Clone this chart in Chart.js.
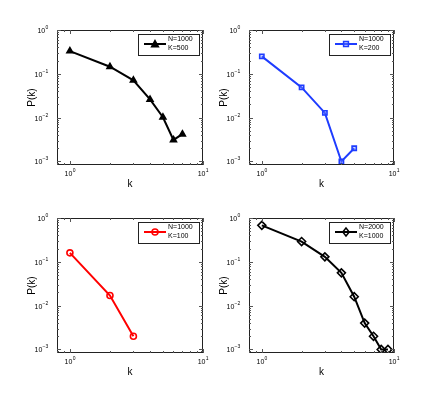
<!DOCTYPE html>
<html lang="en">
<head>
    <meta charset="UTF-8">
    <title>P(k) log-log</title>
    <script src="https://cdn.jsdelivr.net/npm/chart.js"></script>
    <style>
        * { margin: 0; padding: 0; box-sizing: border-box; }
        body { background: #fff; width: 436px; height: 398px; position: relative; overflow: hidden; }
        canvas { position: absolute; }
    </style>
</head>
<body>
    <canvas id="c1" width="218" height="199" style="left:0;top:0"></canvas>
    <canvas id="c2" width="218" height="199" style="left:218px;top:0"></canvas>
    <canvas id="c3" width="218" height="199" style="left:0;top:199px"></canvas>
    <canvas id="c4" width="218" height="199" style="left:218px;top:199px"></canvas>

    <script>
        // data
        const k1 = [1, 2, 3, 4, 5, 6, 7];
        const p1 = [0.33, 0.145, 0.071, 0.026, 0.0102, 0.0031, 0.0042];
        const k2 = [1, 2, 3, 4, 5];
        const p2 = [0.25, 0.049, 0.0128, 0.001, 0.002];
        const k3 = [1, 2, 3];
        const p3 = [0.16, 0.017, 0.002];
        const k4 = [1, 2, 3, 4, 5, 6, 7, 8, 9];
        const p4 = [0.68, 0.29, 0.13, 0.056, 0.016, 0.004, 0.002, 0.001, 0.001];

        const legend1 = ['N=1000', 'K=500'];
        const legend2 = ['N=1000', 'K=200'];
        const legend3 = ['N=1000', 'K=100'];
        const legend4 = ['N=2000', 'K=1000'];

        const xTicks = [1, 10];
        const yTicks = [1, 0.1, 0.01, 0.001];
        const xTitle = 'k';
        const yTitle = 'P(k)';

        const FONT = '"Liberation Sans", Arial, sans-serif';
        const AXIS = '#222';

        function drawMarker(ctx, style, x, y, r, color, fill) {
            ctx.save();
            ctx.strokeStyle = color;
            ctx.fillStyle = fill;
            ctx.lineWidth = 1.5;
            ctx.beginPath();
            if (style === 'triangle') {
                ctx.moveTo(x, y - r);
                ctx.lineTo(x + r, y + r * 0.8);
                ctx.lineTo(x - r, y + r * 0.8);
                ctx.closePath();
            } else if (style === 'rect') {
                ctx.rect(x - r * 0.8, y - r * 0.8, r * 1.6, r * 1.6);
            } else if (style === 'circle') {
                ctx.arc(x, y, r, 0, Math.PI * 2);
            } else {
                ctx.moveTo(x, y - r);
                ctx.lineTo(x + r * 0.8, y);
                ctx.lineTo(x, y + r);
                ctx.lineTo(x - r * 0.8, y);
                ctx.closePath();
            }
            ctx.fill();
            ctx.stroke();
            ctx.restore();
        }

        // "10" with a raised exponent
        function powLabel(ctx, exp, x, y, align) {
            ctx.font = '7px ' + FONT;
            const base = '10';
            const bw = ctx.measureText(base).width;
            ctx.font = '5px ' + FONT;
            const ew = ctx.measureText(exp).width;
            let x0 = x;
            if (align === 'right') x0 = x - bw - ew;
            if (align === 'center') x0 = x - (bw + ew) / 2;
            ctx.textAlign = 'left';
            ctx.textBaseline = 'middle';
            ctx.font = '7px ' + FONT;
            ctx.fillText(base, x0, y);
            ctx.font = '5px ' + FONT;
            ctx.fillText(exp, x0 + bw + 0.3, y - 3.5);
        }

        const framePlugin = {
            id: 'frame',
            afterDraw(chart) {
                const ctx = chart.ctx;
                const a = chart.chartArea;
                const xs = chart.scales.x;
                const ys = chart.scales.y;
                ctx.save();
                ctx.strokeStyle = AXIS;
                ctx.lineWidth = 1;
                ctx.strokeRect(a.left + 0.5, a.top + 0.5, a.right - a.left - 1, a.bottom - a.top - 1);

                // inward ticks on all four sides
                ctx.strokeStyle = '#555';
                ctx.beginPath();
                for (let d = -4; d <= 1; d++) {
                    for (let m = 1; m <= 9; m++) {
                        const v = m * Math.pow(10, d);
                        const len = m === 1 ? 4 : 2;
                        if (v >= xs.min && v <= xs.max) {
                            const px = Math.round(xs.getPixelForValue(v)) + 0.5;
                            ctx.moveTo(px, a.bottom); ctx.lineTo(px, a.bottom - len);
                            ctx.moveTo(px, a.top); ctx.lineTo(px, a.top + len);
                        }
                        if (v >= ys.min && v <= ys.max) {
                            const py = Math.round(ys.getPixelForValue(v)) + 0.5;
                            ctx.moveTo(a.left, py); ctx.lineTo(a.left + len, py);
                            ctx.moveTo(a.right, py); ctx.lineTo(a.right - len, py);
                        }
                    }
                }
                ctx.stroke();

                ctx.fillStyle = '#000';
                xTicks.forEach(v => {
                    powLabel(ctx, String(Math.round(Math.log10(v))), xs.getPixelForValue(v), a.bottom + 9, 'center');
                });
                yTicks.forEach(v => {
                    const e = Math.round(Math.log10(v));
                    powLabel(ctx, e < 0 ? '\u2212' + (-e) : String(e), a.left - 9, ys.getPixelForValue(v) + 1, 'right');
                });

                // axis titles
                ctx.font = '10px ' + FONT;
                ctx.textAlign = 'center';
                ctx.textBaseline = 'middle';
                ctx.fillText(xTitle, (a.left + a.right) / 2, a.bottom + 19);
                ctx.save();
                ctx.translate(a.left - 25, (a.top + a.bottom) / 2);
                ctx.rotate(-Math.PI / 2);
                ctx.fillText(yTitle, 0, 0);
                ctx.restore();

                // legend box
                const ds = chart.data.datasets[0];
                const lines = chart.options.plugins.frame.lines;
                const bw = 61, bh = 21;
                const bx = a.right - 4 - bw, by = a.top + 3.5;
                ctx.fillStyle = '#fff';
                ctx.fillRect(bx, by, bw, bh);
                ctx.strokeStyle = AXIS;
                ctx.lineWidth = 1;
                ctx.strokeRect(Math.round(bx) + 0.5, Math.round(by) + 0.5, bw, bh);
                const ly = by + bh / 2;
                ctx.strokeStyle = ds.borderColor;
                ctx.lineWidth = ds.borderWidth;
                ctx.beginPath();
                ctx.moveTo(bx + 6, ly); ctx.lineTo(bx + 28, ly);
                ctx.stroke();
                drawMarker(ctx, ds.pointStyle, bx + 17, ly, ds.pointRadius, ds.borderColor, ds.pointBackgroundColor);
                ctx.fillStyle = '#000';
                ctx.font = '7px ' + FONT;
                ctx.textAlign = 'left';
                ctx.textBaseline = 'middle';
                ctx.fillText(lines[0], bx + 30, by + 6);
                ctx.fillText(lines[1], bx + 30, by + 15);
                ctx.restore();
            }
        };

        function makeChart(id, ks, ps, color, style, fill, radius, lines, pad) {
            new Chart(document.getElementById(id), {
                type: 'line',
                data: {
                    datasets: [{
                        data: ks.map((k, i) => ({ x: k, y: ps[i] })),
                        borderColor: color,
                        borderWidth: 2,
                        pointStyle: style,
                        pointRadius: radius,
                        pointBorderWidth: 1.6,
                        pointBorderColor: color,
                        pointBackgroundColor: fill,
                        tension: 0,
                        fill: false
                    }]
                },
                options: {
                    responsive: false,
                    animation: false,
                    devicePixelRatio: 1,
                    layout: { padding: pad },
                    plugins: {
                        legend: { display: false },
                        tooltip: { enabled: false },
                        frame: { lines: lines }
                    },
                    scales: {
                        x: {
                            type: 'logarithmic', min: 0.8, max: 10,
                            ticks: { display: false },
                            grid: { display: false, drawTicks: false },
                            border: { display: false },
                            afterFit: s => { s.height = 0; }
                        },
                        y: {
                            type: 'logarithmic', min: 0.00083, max: 1,
                            ticks: { display: false },
                            grid: { display: false, drawTicks: false },
                            border: { display: false },
                            afterFit: s => { s.width = 0; }
                        }
                    }
                },
                plugins: [framePlugin]
            });
        }

        makeChart('c1', k1, p1, '#000', 'triangle', '#000', 3.4, legend1, { left: 57, top: 30, right: 15, bottom: 34 });
        makeChart('c2', k2, p2, '#1e3cff', 'rect', 'rgba(120,140,255,0.35)', 3, legend2, { left: 31, top: 30, right: 42, bottom: 34 });
        makeChart('c3', k3, p3, '#ff0000', 'circle', 'rgba(255,255,255,0)', 3, legend3, { left: 57, top: 19, right: 15, bottom: 45 });
        makeChart('c4', k4, p4, '#000', 'rectRot', 'rgba(255,255,255,0)', 4, legend4, { left: 31, top: 19, right: 42, bottom: 45 });
    </script>
</body>
</html>
